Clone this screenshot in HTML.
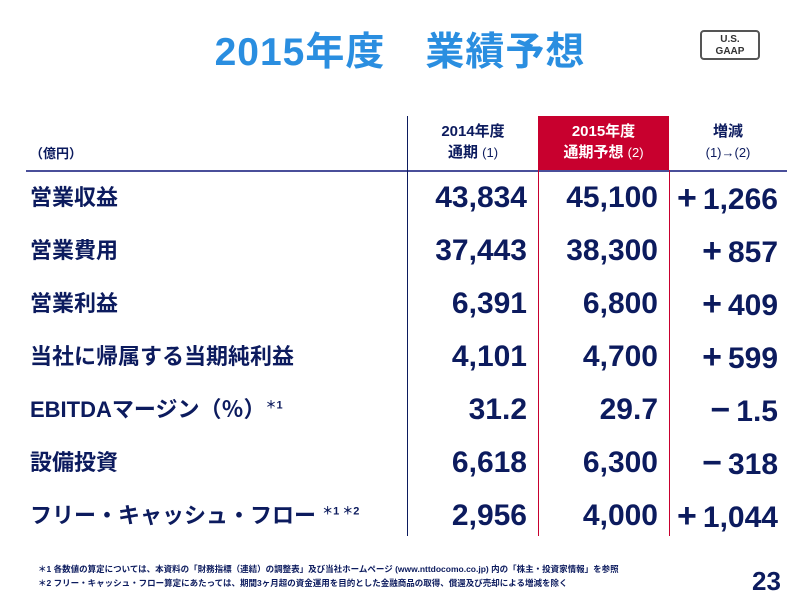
<!DOCTYPE html>
<html><head><meta charset="utf-8"><style>
body{margin:0;width:800px;height:600px;background:#fff;position:relative;overflow:hidden;font-family:"Liberation Sans","Noto Sans CJK JP",sans-serif;color:#0c1b5e}
.a{position:absolute}
.t{font-weight:bold}
.lab{position:absolute;left:30px;font-size:22px;font-weight:bold;transform:translateY(-50%);line-height:1.2}
.n{position:absolute;font-size:30px;font-weight:bold;transform:translateY(-50%);text-align:right;width:130px;line-height:34px;height:34px;white-space:nowrap}
.n .p{font-family:"Liberation Sans",sans-serif;font-size:34px}
</style></head><body>
<div class="a t" style="left:0;width:800px;top:21px;text-align:center;font-size:39px;color:#2a8ee0;letter-spacing:1px">2015年度　業績予想</div>
<div class="a" style="left:700px;top:30px;width:60px;height:30px;border:2px solid #555;border-radius:4px;box-sizing:border-box;font-size:10px;font-weight:bold;text-align:center;line-height:12px;padding-top:2px;color:#333">U.S.<br>GAAP</div>
<div class="a" style="left:30px;top:143px;font-size:13px;font-weight:bold">（億円）</div>
<div class="a" style="left:538px;top:116px;width:131px;height:55px;background:#c8002e"></div>
<div class="a t" style="left:408px;width:130px;top:121px;text-align:center;font-size:15px;line-height:21px">2014年度<br>通期 <span style="font-weight:normal;font-size:13px">(1)</span></div>
<div class="a t" style="left:538px;width:131px;top:121px;text-align:center;font-size:15px;line-height:21px;color:#fff">2015年度<br>通期予想 <span style="font-weight:normal;font-size:13px">(2)</span></div>
<div class="a t" style="left:669px;width:118px;top:121px;text-align:center;font-size:15px;line-height:21px">増減<br><span style="font-weight:normal;font-size:13px">(1)→(2)</span></div>
<div class="a" style="left:26px;top:170px;width:761px;height:2px;background:#4a4f9a"></div>
<div class="a" style="left:407px;top:116px;width:1px;height:420px;background:#0c1b5e"></div>
<div class="a" style="left:538px;top:170px;width:1px;height:366px;background:#c8002e"></div>
<div class="a" style="left:669px;top:170px;width:1px;height:366px;background:#c8002e"></div>
<div id="rows"></div>
<div class="a" style="left:38px;top:562px;font-size:8.5px;font-weight:bold;line-height:14px;white-space:nowrap">＊1 各数値の算定については、本資料の「財務指標（連結）の調整表」及び当社ホームページ (www.nttdocomo.co.jp) 内の「株主・投資家情報」を参照<br>＊2 フリー・キャッシュ・フロー算定にあたっては、期間3ヶ月超の資金運用を目的とした金融商品の取得、償還及び売却による増減を除く</div>
<div class="a t" style="left:752px;top:566px;font-size:26px">23</div>
<script>
const labels=["営業収益","営業費用","営業利益","当社に帰属する当期純利益","EBITDAマージン（％）<sup style='font-size:11px'>＊1</sup>","設備投資","フリー・キャッシュ・フロー <sup style='font-size:11px'>＊1 ＊2</sup>"];
const fy2014=["43,834","37,443","6,391","4,101","31.2","6,618","2,956"];
const fy2015=["45,100","38,300","6,800","4,700","29.7","6,300","4,000"];
const change=["+1,266","+857","+409","+599","−1.5","−318","+1,044"];
const c=document.getElementById('rows');
labels.forEach((l,i)=>{
 const y=198+i*53;
 const d=document.createElement('div');d.className='lab';d.style.top=y+'px';d.innerHTML=l;
 
 
 c.appendChild(d);
 [[fy2014,397],[fy2015,528],[change,648]].forEach(([arr,x],k)=>{
  const n=document.createElement('div');n.className='n';n.style.top=y+'px';n.style.left=x+'px';
  const v=arr[i];
  if(k==2){n.innerHTML='<span class="p">'+v[0]+'</span>&thinsp;'+v.slice(1);}else{n.textContent=v;}
  
  
  c.appendChild(n);
 });
});
</script>
</body></html>
